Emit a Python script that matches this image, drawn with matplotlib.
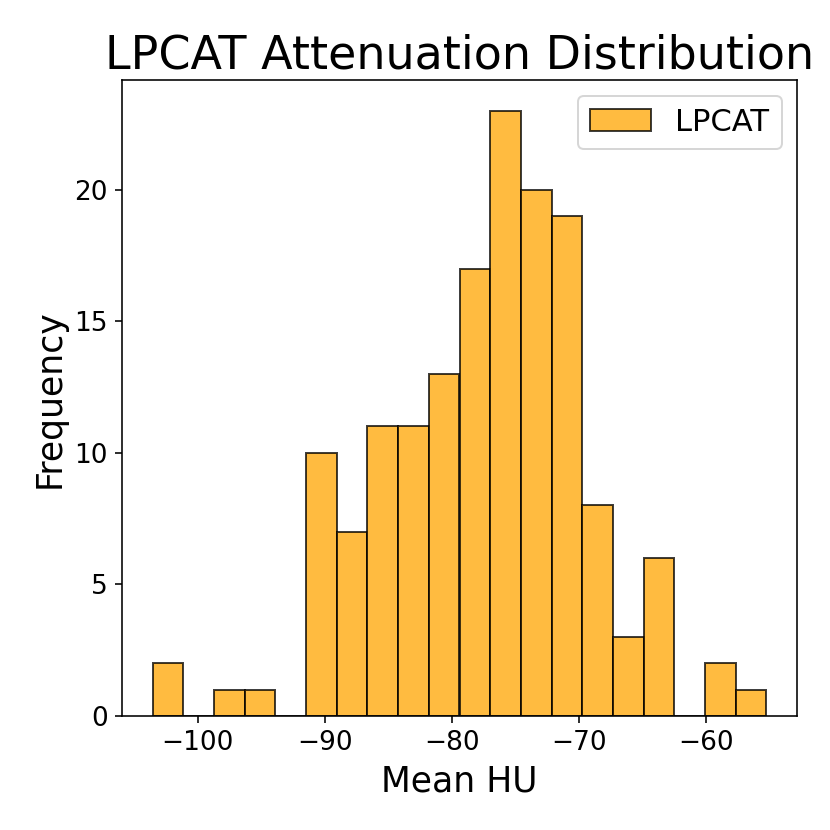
import numpy as np
import matplotlib
matplotlib.use("Agg")
import matplotlib.pyplot as plt

# Data (20 equal-width bins)
data_min = -103.56
data_max = -55.28
n_bins = 20
counts = [2, 0, 1, 1, 0, 10, 7, 11, 11, 13, 17, 23, 20, 19, 8, 3, 6, 0, 2, 1]
series_label = "LPCAT"
title = "LPCAT Attenuation Distribution"
x_label = "Mean HU"
y_label = "Frequency"

edges = np.linspace(data_min, data_max, n_bins + 1)

DPI = 144
fig = plt.figure(figsize=(830 / DPI, 830 / DPI), dpi=DPI)
ax = fig.add_axes([122 / 830, 1 - 716 / 830, (797 - 122) / 830, (716 - 80.3) / 830])

ax.hist(edges[:-1], bins=edges, weights=counts, color="orange", alpha=0.75,
        edgecolor="black", linewidth=1.0, label=series_label)

ax.set_title(title, fontsize=23)
ax.set_xlabel(x_label, fontsize=17.3)
ax.set_ylabel(y_label, fontsize=17.3)
ax.tick_params(axis="both", labelsize=13.2)
ax.set_yticks([0, 5, 10, 15, 20])
ax.legend(fontsize=15.3, loc="upper right")

fig.savefig("out.png", dpi=DPI)
